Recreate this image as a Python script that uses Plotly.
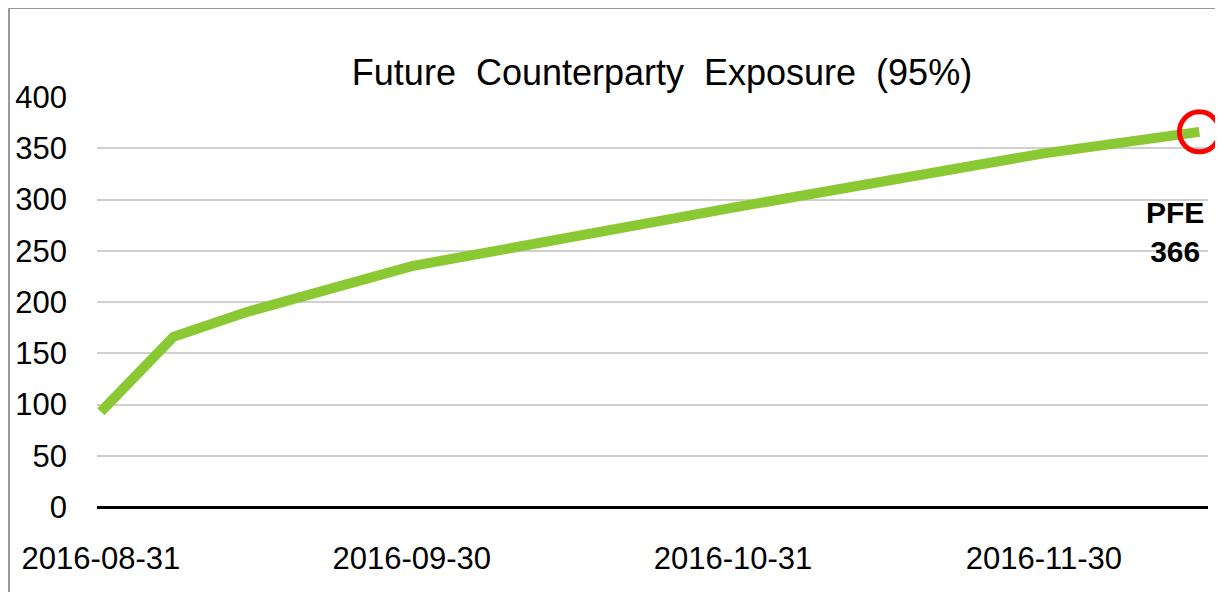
import plotly.graph_objects as go

dates = ["2016-08-31", "2016-09-02", "2016-09-07", "2016-09-14", "2016-09-30",
         "2016-10-31", "2016-11-30", "2016-12-15"]
pfe = [93, 113, 166, 190, 235, 292, 345, 366]
tick_dates = ["2016-08-31", "2016-09-30", "2016-10-31", "2016-11-30"]
tick_labels = ["2016-08-31", "2016-09-30", "2016-10-31", "2016-11-30"]
y_ticks = [0, 50, 100, 150, 200, 250, 300, 350, 400]
title_text = "Future  Counterparty  Exposure  (95%)"
peak_label = "PFE<br>366"

FONT = "Liberation Sans, Arial, sans-serif"

OFF = 8  # default page body margin
W, H = 1223 - OFF, 592 - OFF
L, R, T, B = 97 - OFF, 15, 97 - OFF, 85
pw, ph = W - L - R, H - T - B

def px2paper_x(px):
    return (px - OFF - L) / pw

def px2paper_y(py):
    return (H + OFF - B - py) / ph

fig = go.Figure()
fig.add_trace(go.Scatter(
    x=dates, y=pfe, mode="lines",
    line=dict(color="#8BC934", width=10),
    hoverinfo="skip", showlegend=False,
))
fig.add_trace(go.Scatter(
    x=[dates[-1]], y=[pfe[-1]], mode="markers",
    marker=dict(symbol="circle-open", size=40, color="#FF0000",
                line=dict(color="#FF0000", width=5)),
    cliponaxis=False, hoverinfo="skip", showlegend=False,
))

fig.add_annotation(
    x=dates[-1], y=pfe[-1], xref="x", yref="y",
    text="<b>" + peak_label + "</b>", showarrow=False,
    xanchor="center", yanchor="top", xshift=-24, yshift=-62,
    font=dict(family=FONT, size=30, color="#000000"),
    align="center",
)

fig.update_layout(
    width=W, height=H,
    margin=dict(l=L, r=R, t=T, b=B, pad=0),
    paper_bgcolor="white", plot_bgcolor="white",
    title=dict(text=title_text, x=(662 - OFF) / W, xanchor="center",
               y=1 - (72 - OFF) / H, yanchor="middle",
               font=dict(family=FONT, size=36, color="#000000")),
    font=dict(family=FONT, color="#000000"),
    xaxis=dict(
        type="date",
        range=["2016-08-30 15:00", "2016-12-15 20:00"],
        tickvals=tick_dates, ticktext=tick_labels,
        tickfont=dict(family=FONT, size=31, color="#000000"),
        showgrid=False, zeroline=False, automargin=False,
        showline=False, ticks="", ticklabelstandoff=30,
    ),
    yaxis=dict(
        range=[0, 400], tickvals=y_ticks, automargin=False,
        tickfont=dict(family=FONT, size=31, color="#000000"),
        showgrid=True, gridcolor="#D0D0D0", gridwidth=2,
        zeroline=True, zerolinecolor="#000000", zerolinewidth=3,
        showline=False, ticks="", ticklabelstandoff=29,
    ),
    shapes=[
        dict(type="rect", xref="paper", yref="paper",
             x0=px2paper_x(9), x1=px2paper_x(1400),
             y0=px2paper_y(800), y1=px2paper_y(8),
             line=dict(color="#999999", width=2), fillcolor="rgba(0,0,0,0)",
             layer="below"),
    ],
)

fig.write_html("out.html")
